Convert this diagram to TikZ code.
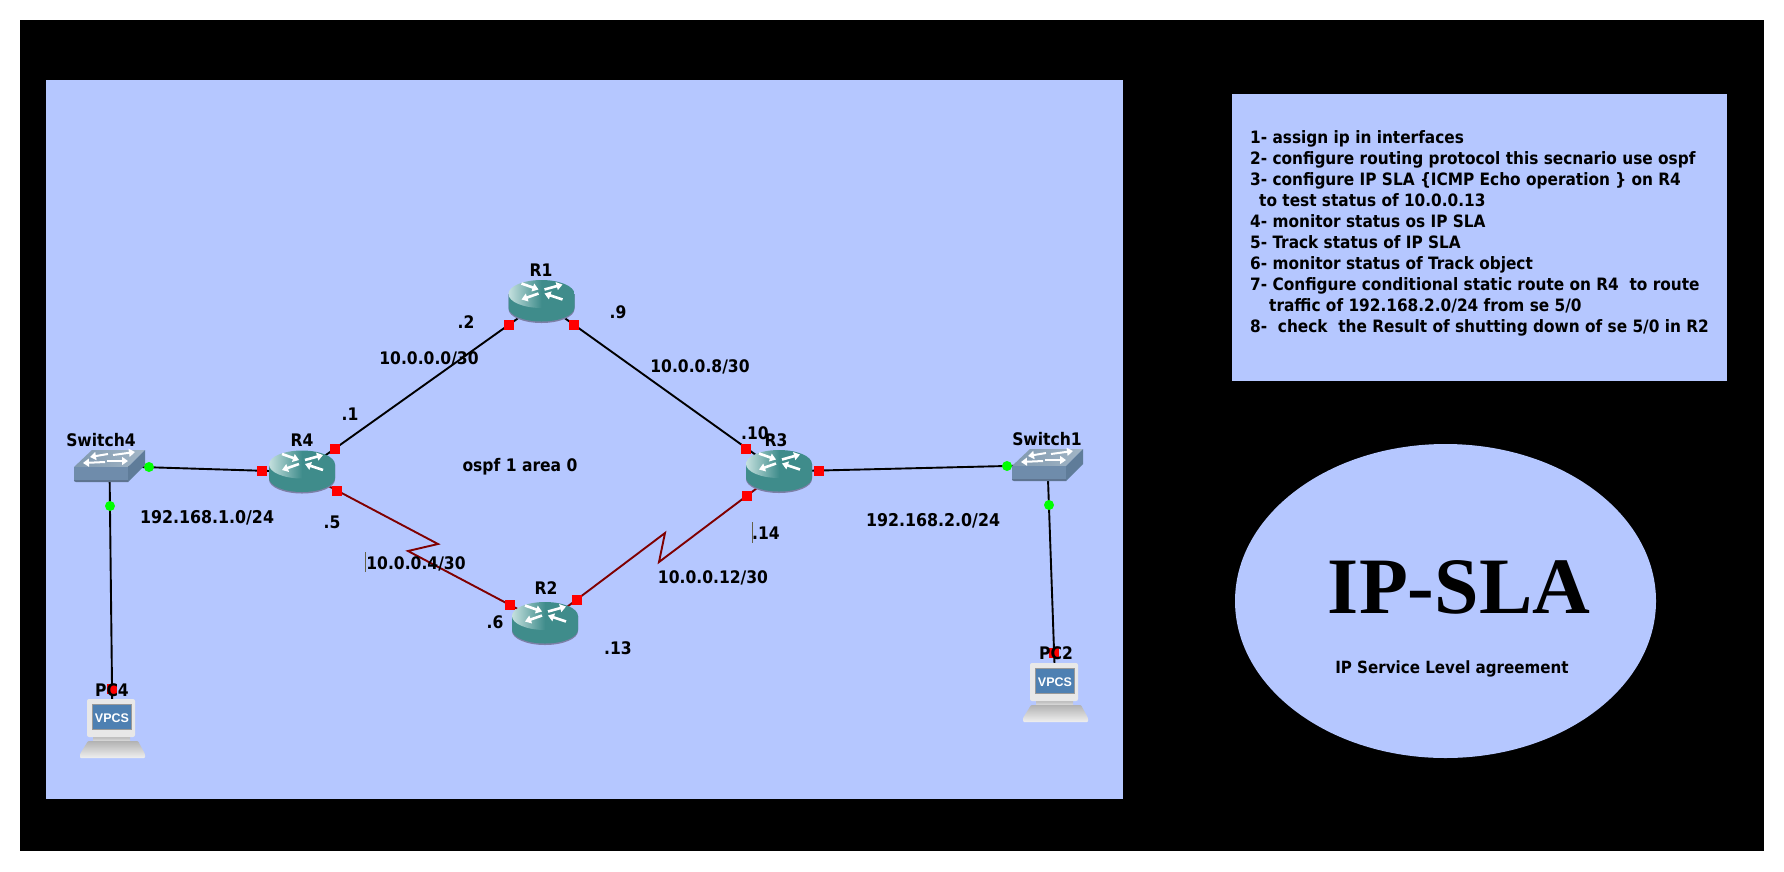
\documentclass[tikz,border=0pt]{standalone}
\usepackage{fontspec}
\usetikzlibrary{arrows.meta}
\newfontfamily\labfam{DejaVu Sans Condensed Bold}
\newfontfamily\serifbold{Liberation Serif Bold}
\newfontfamily\vpcsfam{Liberation Sans Bold}
\definecolor{panel}{HTML}{B5C7FF}
\definecolor{routerteal}{HTML}{3F8C8B}
\definecolor{routerlight}{HTML}{C4E0DE}
\definecolor{routerrim}{HTML}{7C7FA6}
\definecolor{serialred}{HTML}{800000}
\definecolor{swtopa}{HTML}{7F98AE}
\definecolor{swtopb}{HTML}{A3B6C6}
\definecolor{swfront}{HTML}{6F8CAB}
\definecolor{swside}{HTML}{5F7C99}
\definecolor{swrim}{HTML}{5E7490}
\definecolor{pcscreen}{HTML}{4E80B2}
\pgfdeclarelayer{bg}
\pgfsetlayers{bg,main}
\tikzset{
  lab/.style={font=\labfam\fontsize{17.3}{20}\selectfont,inner sep=0pt,text=black},
  devbox/.style={inner sep=0pt,outer sep=0pt},
  redport/.style={fill=red,inner sep=0pt,minimum size=10pt,outer sep=0pt},
  greenport/.style={circle,fill=green,inner sep=0pt,minimum size=10pt,outer sep=0pt},
  wire/.style={black,line width=1.9pt},
  serial/.style={serialred,line width=1.9pt,line join=miter},
  cursorbar/.style={draw=black!70!yellow,line width=0.8pt},
  iconarrow/.style={white,line width=2.6pt,-{Triangle[length=6pt,width=8pt]}},
}
\newcommand\routerat[3]{%
  \node[devbox,minimum width=66pt,minimum height=43pt] (#1) at (#2,#3) {};
  \begin{scope}[shift={(#1.center)}]
    \fill[routerrim] (-33,-7.5) -- (-33,7.5) arc[start angle=180,end angle=0,x radius=33,y radius=14] -- (33,-7.5) -- cycle;
    \fill[routerteal] (-33,-7.5) -- (-33,6) arc[start angle=180,end angle=0,x radius=33,y radius=14] -- (33,-7.5) -- cycle;
    \shade[left color=routerlight,right color=routerteal,middle color=routerteal] (0,-7.5) ellipse[x radius=33,y radius=14];
    \draw[iconarrow] (-20,-18) -- (-3,-12);
    \draw[iconarrow] (-3,-8) -- (-20,-2);
    \draw[iconarrow] (3,-12) -- (21,-17);
    \draw[iconarrow] (21,-2) -- (3,-8);
  \end{scope}
}
\newcommand\switchat[3]{%
  \node[devbox,minimum width=71pt,minimum height=32pt] (#1) at (#2,#3) {};
  \begin{scope}[shift={(#1.center)},xshift=-35.5pt,yshift=16pt]
    \shade[left color=swtopa,right color=swtopb] (0,17) -- (18,0) -- (71,0) -- (54,17) -- cycle;
    \fill[swfront] (0,17) -- (54,17) -- (54,30) -- (0,30) -- cycle;
    \fill[swrim] (0,30) -- (54,30) -- (54,32) -- (2,32) -- (0,31) -- cycle;
    \fill[swside] (54,17) -- (71,0) -- (71,15) -- (54,32) -- cycle;
    \draw[iconarrow,line width=2pt] (34,4) -- (16,7);
    \draw[iconarrow,line width=2pt] (39,5) -- (61,2);
    \draw[iconarrow,line width=2pt] (31,12) -- (9,13);
    \draw[iconarrow,line width=2pt] (33,11) -- (54,11);
  \end{scope}
}
\newcommand\pcat[3]{%
  \node[devbox,minimum width=65pt,minimum height=59pt] (#1) at (#2,#3) {};
  \begin{scope}[shift={(#1.center)},xshift=-32.5pt,yshift=29.5pt]
    \shade[top color=black!30,bottom color=black!10] (13,37) rectangle (50,43);
    \shade[top color=black!30,bottom color=black!6,rounded corners=1pt] (8,42) -- (58,42) -- (65,55) -- (65,59) -- (0,59) -- (0,55) -- cycle;
    \fill[black!9,rounded corners=2pt] (7,0) rectangle (55,38);
    \fill[black!40] (12,5) rectangle (52,31);
    \fill[pcscreen] (13,6) rectangle (51,30);
    \node[font=\vpcsfam\fontsize{12.5}{14}\selectfont,text=white,inner sep=0pt] (#1txt) at (32,19) {VPCS};
  \end{scope}
}
\begin{document}
\begin{tikzpicture}[x=1pt,y=-1pt]
\useasboundingbox (0,0) rectangle (1784,871);
\begin{pgfonlayer}{bg}
  \fill[white] (0,0) rectangle (1784,871);
  \fill[black] (20,20) rectangle (1764,851);
  \fill[panel] (46,80) rectangle (1123,799);
  \fill[panel] (1232,94) rectangle (1727,381);
  \fill[panel] (1445.5,601) ellipse[x radius=210.5,y radius=157];
\end{pgfonlayer}
% devices
\routerat{r1}{541.5}{301.5}
\routerat{r4}{302}{472}
\routerat{r2}{545}{623.5}
\routerat{r3}{779}{471.5}
\switchat{sw4}{109.5}{466}
\switchat{sw1}{1047.5}{465}
\pcat{pc4}{112.5}{728.5}
\pcat{pc2}{1055.5}{692.5}
% serial bends
\coordinate (ziga) at (438,544);
\coordinate (zigb) at (408,551);
\coordinate (zigc) at (665,533);
\coordinate (zigd) at (659,562);
% connectors
\begin{pgfonlayer}{bg}
  \draw[wire] (r4.center) -- (r1.center);
  \draw[wire] (r1.center) -- (r3.center);
  \draw[wire] (sw4.center) -- (r4.center);
  \draw[wire] (r3.center) -- (sw1.center);
  \draw[wire] (sw4.center) -- (pc4.center);
  \draw[wire] (sw1.center) -- (pc2.center);
  \draw[serial] (r4.center) -- (ziga) -- (zigb) -- (r2.center);
  \draw[serial] (r2.center) -- (zigc) -- (zigd) -- (r3.center);
\end{pgfonlayer}
% ports
\node[redport] (p1) at (509,325) {};
\node[redport] (p2) at (574,325) {};
\node[redport] (p3) at (335,449) {};
\node[redport] (p4) at (262,471) {};
\node[redport] (p5) at (337,491) {};
\node[redport] (p6) at (510,605) {};
\node[redport] (p7) at (577,600) {};
\node[redport] (p8) at (746,449) {};
\node[redport] (p9) at (747,496) {};
\node[redport] (p10) at (819,471) {};
\node[redport] (p11) at (112,689) {};
\node[redport] (p12) at (1054,653) {};
\node[greenport] (g1) at (149,467) {};
\node[greenport] (g2) at (110,506) {};
\node[greenport] (g3) at (1007,466) {};
\node[greenport] (g4) at (1049,505) {};
% labels
\node[lab] (lr1) at (541,270) {R1};
\node[lab] (lr4) at (302,440) {R4};
\node[lab] (lr2) at (546,588) {R2};
\node[lab] (l10) at (755,433) {.10};
\node[lab] (lr3) at (776,440) {R3};
\node[lab] (lsw4) at (101,440) {Switch4};
\node[lab] (lsw1) at (1047,439) {Switch1};
\node[lab] (lpc4) at (112,690) {PC4};
\node[lab] (lpc2) at (1056,653) {PC2};
\node[lab] (ld2) at (466,322) {.2};
\node[lab] (ld9) at (618,312) {.9};
\node[lab] (ld1) at (350,414) {.1};
\node[lab] (ld5) at (332,522) {.5};
\node[lab] (ld6) at (495,622) {.6};
\node[lab] (ld13) at (618,648) {.13};
\node[lab] (ld14) at (766,533) {.14};
\node[lab] (n1) at (429,358.5) {10.0.0.0/30};
\node[lab] (n2) at (700,366.5) {10.0.0.8/30};
\node[lab] (n3) at (416,563.5) {10.0.0.4/30};
\node[lab] (n4) at (713,577.5) {10.0.0.12/30};
\node[lab,font=\labfam\fontsize{17.6}{20}\selectfont] (n5) at (207,517.5) {192.168.1.0/24};
\node[lab,font=\labfam\fontsize{17.6}{20}\selectfont] (n6) at (933,520.5) {192.168.2.0/24};
\node[lab] (ospf) at (520,467) {ospf 1 area 0};
\draw[cursorbar] (365,552) -- (365,572);
\draw[cursorbar] (752,522) -- (752,543);
\node[lab,anchor=north west,align=left,font=\labfam\fontsize{17.05}{21}\selectfont] (steps) at (1250,130.5) {%
1- assign ip in interfaces\\
2- configure routing protocol this secnario use ospf\\
3- configure IP SLA \{ICMP Echo operation \} on R4\\
\hspace*{9pt}to test status of 10.0.0.13\\
4- monitor status os IP SLA\\
5- Track status of IP SLA\\
6- monitor status of Track object\\
7- Configure conditional static route on R4\ \ to route\\
\hspace*{19pt}traffic of 192.168.2.0/24 from se 5/0\\
8-\ \ check\ \ the Result of shutting down of se 5/0 in R2};
\node[inner sep=0pt,font=\serifbold\fontsize{80}{90}\selectfont] (title) at (1459,587) {IP-SLA};
\node[lab,font=\labfam\fontsize{16.8}{20}\selectfont] (sub) at (1452,669) {IP Service Level agreement};
\end{tikzpicture}
\end{document}
